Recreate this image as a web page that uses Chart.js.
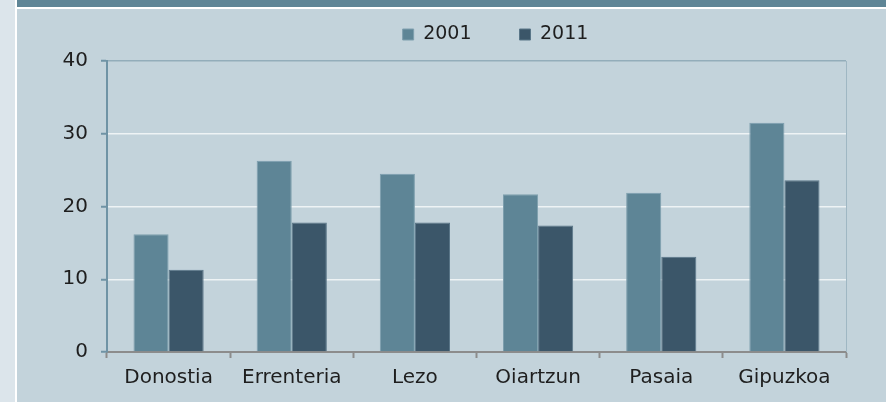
<!DOCTYPE html>
<html>
<head>
    <meta charset="UTF-8">
    <title>2001 / 2011</title>
    <script src="https://cdn.jsdelivr.net/npm/chart.js"></script>
    <style>
        body {
            margin: 0;
            width: 886px;
            height: 402px;
            background: #dce5eb;
            position: relative;
            overflow: hidden;
        }

        #side-line {
            position: absolute;
            left: 15px;
            top: 0;
            width: 2px;
            height: 402px;
            background: #ffffff;
        }

        #top-band {
            position: absolute;
            left: 17px;
            top: 0;
            width: 869px;
            height: 7px;
            background: #5e8596;
        }

        #top-line {
            position: absolute;
            left: 17px;
            top: 7px;
            width: 869px;
            height: 2px;
            background: #ffffff;
        }

        #chart-box {
            position: absolute;
            left: 17px;
            top: 9px;
            width: 869px;
            height: 393px;
            background: #c3d3db;
        }
    </style>
</head>
<body>
<div id="side-line"></div>
<div id="top-band"></div>
<div id="top-line"></div>
<div id="chart-box">
    <canvas id="chart"></canvas>
</div>

<script>
    const categories = ["Donostia", "Errenteria", "Lezo", "Oiartzun", "Pasaia", "Gipuzkoa"];
    const seriesNames = ["2001", "2011"];
    const values2001 = [16.2, 26.3, 24.5, 21.7, 21.9, 31.5];
    const values2011 = [11.3, 17.8, 17.8, 17.4, 13.1, 23.6];
    const yTicks = [0, 10, 20, 30, 40];

    const textColor = "#1e1e1e";
    const font = {family: "'DejaVu Sans', sans-serif", size: 20};

    // legend items are far apart (big padding) but the box stays short,
    // and it sits a bit right of the canvas centre like in the original
    const moveLegend = {
        id: "moveLegend",
        beforeLayout(chart) {
            const lg = chart.legend;
            if (lg && !lg._shortFit) {
                const fit = lg.fit;
                lg.fit = function () {
                    fit.call(this);
                    this.height = 49;
                };
                lg._shortFit = true;
            }
        },
        afterLayout(chart) {
            const lg = chart.legend;
            lg.top -= 35;
            lg.height += 35;
            lg.left += 64;
            lg.right += 64;
        }
    };

    // thin frame line on the right of the plot
    const rightEdge = {
        id: "rightEdge",
        afterDatasetsDraw(chart) {
            const a = chart.chartArea;
            const ctx = chart.ctx;
            ctx.save();
            ctx.strokeStyle = "#9fb7c3";
            ctx.lineWidth = 1;
            ctx.beginPath();
            ctx.moveTo(a.right + 0.5, a.top);
            ctx.lineTo(a.right + 0.5, a.bottom);
            ctx.stroke();
            ctx.restore();
        }
    };

    const ctx = document.getElementById("chart").getContext("2d");
    new Chart(ctx, {
        type: "bar",
        data: {
            labels: categories,
            datasets: [{
                label: seriesNames[0],
                data: values2001,
                backgroundColor: "#5e8596",
                borderColor: "#7e9fae",
                borderWidth: 1,
                categoryPercentage: 0.57,
                barPercentage: 1.0
            }, {
                label: seriesNames[1],
                data: values2011,
                backgroundColor: "#3b5669",
                borderColor: "#5a7688",
                borderWidth: 1,
                categoryPercentage: 0.57,
                barPercentage: 1.0
            }]
        },
        options: {
            responsive: true,
            maintainAspectRatio: false,
            animation: false,
            layout: {padding: {top: 3, right: 40, left: 0, bottom: 0}},
            plugins: {
                legend: {
                    position: "top",
                    labels: {
                        boxWidth: 11,
                        boxHeight: 11,
                        padding: 48,
                        color: textColor,
                        font: {family: font.family, size: 19}
                    }
                },
                tooltip: {enabled: false}
            },
            scales: {
                x: {
                    afterFit: s => { s.height = 50; },
                    grid: {
                        offset: true,
                        drawOnChartArea: false,
                        drawTicks: true,
                        tickLength: 6,
                        tickColor: "#8c8c8c",
                        tickWidth: 2
                    },
                    border: {color: "#8c8c8c", width: 2},
                    ticks: {color: textColor, font: font, padding: 8}
                },
                y: {
                    min: 0,
                    max: 40,
                    afterFit: s => { s.width = 90; },
                    afterBuildTicks: s => { s.ticks = yTicks.map(v => ({value: v})); },
                    grid: {
                        color: c => c.tick.value === 40 ? "#93adba" : (c.tick.value === 0 ? "rgba(0,0,0,0)" : "#eef3f5"),
                        lineWidth: 1.5,
                        drawTicks: true,
                        tickLength: 6,
                        tickColor: "#6f93a5",
                        tickWidth: 2
                    },
                    border: {color: "#6f93a5", width: 2},
                    ticks: {color: textColor, font: font, padding: 13}
                }
            }
        },
        plugins: [moveLegend, rightEdge]
    });
</script>
</body>
</html>
